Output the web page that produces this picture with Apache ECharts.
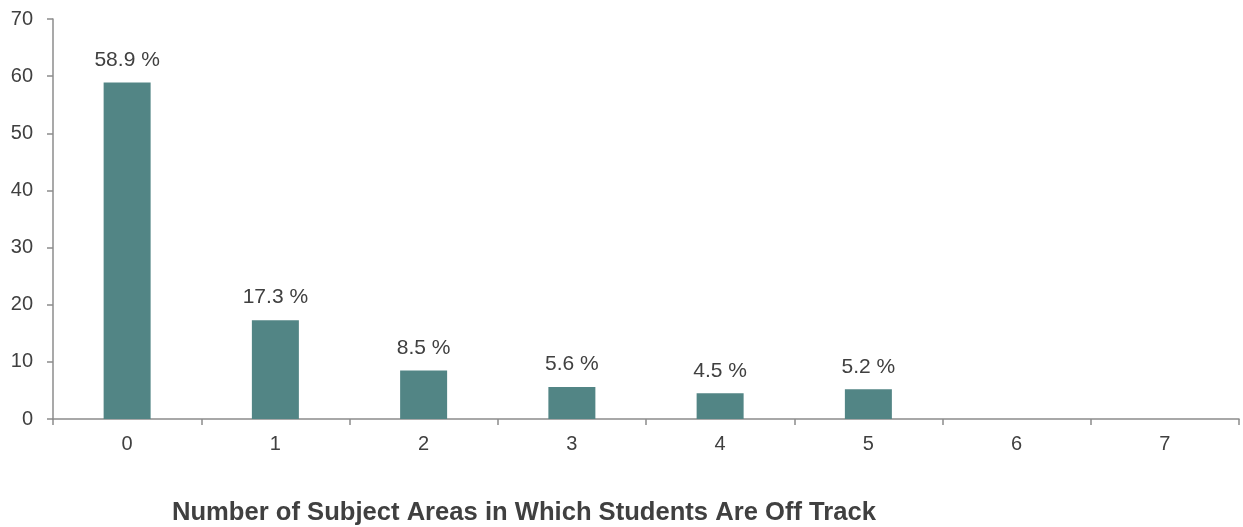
<!DOCTYPE html>
<html><head><meta charset="utf-8">
<script src="https://cdn.jsdelivr.net/npm/echarts@6/dist/echarts.min.js"></script>
<style>html,body{margin:0;padding:0;background:#fff}#c{width:1243px;height:527px}</style>
</head><body><div id="c"></div>
<script>
const categories = ['0','1','2','3','4','5','6','7'];
const values = [58.9, 17.3, 8.5, 5.6, 4.5, 5.2, null, null];
const yTicks = [0,10,20,30,40,50,60,70];
const xTitle = 'Number of Subject Areas in Which Students Are Off Track';

const FONT = '"Liberation Sans", Arial, sans-serif';
const TXT = '#404040';
const AX = '#8c8c8c';
const chart = echarts.init(document.getElementById('c'), null, {renderer:'canvas'});
chart.setOption({
  animation:false,
  textStyle:{fontFamily:FONT},
  grid:{left:53,right:4,top:19,bottom:108,containLabel:false},
  title:{text:xTitle,left:172,top:500,padding:0,textStyle:{fontFamily:FONT,fontSize:25.6,fontWeight:'bold',color:TXT}},
  xAxis:{type:'category',data:categories,boundaryGap:true,
    axisLine:{lineStyle:{color:AX,width:1.5}},
    axisTick:{show:true,alignWithLabel:false,length:6,lineStyle:{color:AX,width:1.5}},
    axisLabel:{color:TXT,fontSize:20,margin:15,fontFamily:FONT}},
  yAxis:{type:'value',min:yTicks[0],max:yTicks[yTicks.length-1],interval:10,
    splitLine:{show:false},
    axisLine:{show:true,lineStyle:{color:AX,width:1.5}},
    axisTick:{show:true,length:6,lineStyle:{color:AX,width:1.5}},
    axisLabel:{color:TXT,fontSize:20,margin:20,fontFamily:FONT}},
  series:[{type:'bar',data:values,barWidth:'31.7%',
    itemStyle:{color:'#528585'},
    label:{show:true,position:'top',distance:12,color:TXT,fontSize:21,fontFamily:FONT,
      formatter:p=>p.value==null?'':p.value.toFixed(1)+' %'}}]
});
</script></body></html>
